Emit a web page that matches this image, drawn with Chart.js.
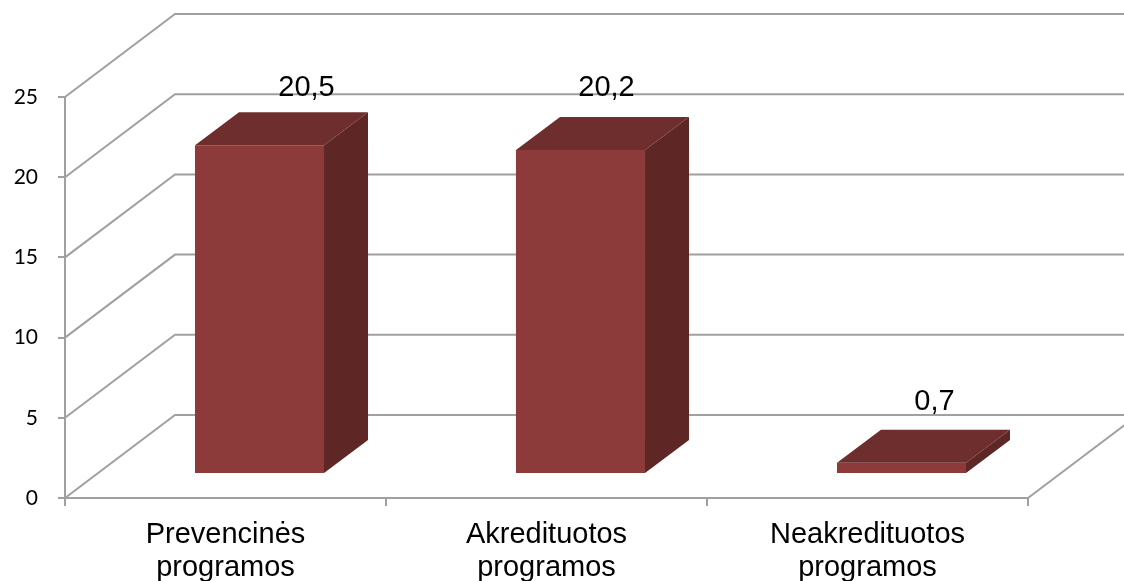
<!DOCTYPE html>
<html>
<head>
<meta charset="utf-8">
<title>Programos</title>
<script src="https://cdn.jsdelivr.net/npm/chart.js@4/dist/chart.umd.min.js"></script>
<style>
  html, body { margin: 0; padding: 0; background: #fff; overflow: hidden; }
  #wrap { width: 1124px; height: 581px; }
</style>
</head>
<body>
<div id="wrap"><canvas id="chart"></canvas></div>
<script>
// Chart data
const categories = [['Prevencinės', 'programos'], ['Akredituotos', 'programos'], ['Neakredituotos', 'programos']];
const values = [20.5, 20.2, 0.7];
const valueLabels = ['20,5', '20,2', '0,7'];
const yMax = 25;
const yStep = 5;

// 3D look
const WALL = { dx: 110, dy: -83 };      // back wall offset from the front plane
const BAR_SHIFT = { dx: 34, dy: -24 };  // bars stand partway into the floor
const BAR_DEPTH = { dx: 44, dy: -33 };
const LABEL_NUDGE = [47, 26, 33];       // value labels sit a bit off-centre in the original
const LABEL_RISE = [57, 62, 61];
const LINE = '#a0a0a0';
const FRONT = '#8c3a3a', TOP = '#6e2e2d', SIDE = '#5e2624';

function poly(ctx, pts, fill) {
    ctx.beginPath();
    pts.forEach((p, i) => i ? ctx.lineTo(p[0], p[1]) : ctx.moveTo(p[0], p[1]));
    ctx.closePath();
    ctx.fillStyle = fill;
    ctx.fill();
}

const walls = {
    id: 'walls',
    beforeDatasetsDraw(chart) {
        const { ctx, scales: { x, y } } = chart;
        const left = x.left, right = x.right;
        ctx.save();
        ctx.strokeStyle = LINE;
        ctx.lineWidth = 2;
        y.ticks.forEach(t => {
            const py = y.getPixelForValue(t.value);
            ctx.beginPath();
            ctx.moveTo(left, py);
            ctx.lineTo(left + WALL.dx, py + WALL.dy);
            ctx.lineTo(right + WALL.dx, py + WALL.dy);
            ctx.stroke();
        });
        // floor, right hand edge
        const py0 = y.getPixelForValue(0);
        ctx.beginPath();
        ctx.moveTo(right, py0);
        ctx.lineTo(right + WALL.dx, py0 + WALL.dy);
        ctx.stroke();
        ctx.restore();
    },
    // shift the library's bars back onto the floor
    beforeDatasetDraw(chart) {
        chart.ctx.save();
        chart.ctx.translate(BAR_SHIFT.dx, BAR_SHIFT.dy);
    },
    afterDatasetDraw(chart, args) {
        const ctx = chart.ctx;
        args.meta.data.forEach(bar => {
            const l = bar.x - bar.width / 2, r = bar.x + bar.width / 2;
            const t = bar.y, b = bar.base;
            const d = BAR_DEPTH;
            poly(ctx, [[l, t], [r, t], [r + d.dx, t + d.dy], [l + d.dx, t + d.dy]], TOP);
            poly(ctx, [[r, t], [r + d.dx, t + d.dy], [r + d.dx, b + d.dy], [r, b]], SIDE);
        });
        ctx.restore();
    },
    afterDatasetsDraw(chart) {
        const ctx = chart.ctx;
        const bars = chart.getDatasetMeta(0).data;
        ctx.save();
        ctx.fillStyle = '#000';
        ctx.font = '29px "Liberation Sans"';
        ctx.textAlign = 'center';
        ctx.textBaseline = 'middle';
        bars.forEach((bar, i) => {
            ctx.fillText(valueLabels[i], bar.x + BAR_SHIFT.dx + LABEL_NUDGE[i], bar.y + BAR_SHIFT.dy - LABEL_RISE[i]);
        });
        ctx.restore();
    }
};

new Chart(document.getElementById('chart'), {
    type: 'bar',
    data: {
        labels: categories,
        datasets: [{
            data: values,
            backgroundColor: FRONT,
            borderWidth: 0,
            barPercentage: 1,
            categoryPercentage: 0.402,
            clip: false
        }]
    },
    options: {
        responsive: true,
        maintainAspectRatio: false,
        animation: false,
        events: [],
        layout: { padding: { top: 97, right: 96, left: 0, bottom: 0 } },
        plugins: { legend: { display: false }, tooltip: { enabled: false }, title: { display: false } },
        scales: {
            x: {
                afterFit(s) { s.height = 83; },
                border: { color: LINE, width: 2 },
                grid: { drawOnChartArea: false, color: LINE, lineWidth: 2, tickLength: 8 },
                ticks: {
                    color: '#000',
                    maxRotation: 0,
                    padding: 12,
                    font: { family: '"Liberation Sans"', size: 29, lineHeight: 1.14 }
                }
            },
            y: {
                min: 0,
                max: yMax,
                afterFit(s) { s.width = 65; },
                border: { color: LINE, width: 2 },
                grid: { drawOnChartArea: false, color: LINE, lineWidth: 2, tickLength: 7 },
                ticks: {
                    stepSize: yStep,
                    color: '#000',
                    padding: 20,
                    font: { family: 'Lato', size: 21 }
                }
            }
        }
    },
    plugins: [walls]
});
</script>
</body>
</html>
